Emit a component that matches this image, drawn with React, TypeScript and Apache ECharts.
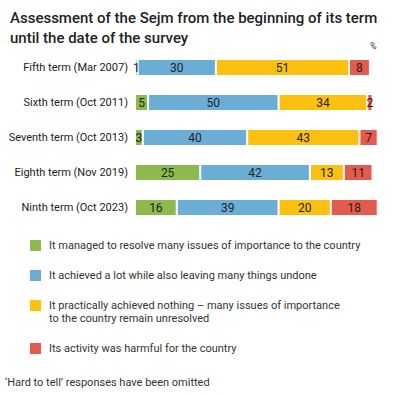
import React, { useEffect, useRef } from "react";
import * as echarts from "echarts";

const titleLines = ["Assessment of the Sejm from the beginning of its term", "until the date of the survey"];
const categories = [
  "Fifth term (Mar 2007)",
  "Sixth term (Oct 2011)",
  "Seventh term (Oct 2013)",
  "Eighth term (Nov 2019)",
  "Ninth term (Oct 2023)",
];
const seriesNames = [
  "It managed to resolve many issues of importance to the country",
  "It achieved a lot while also leaving many things undone",
  "It practically achieved nothing – many issues of importance\nto the country remain unresolved",
  "Its activity was harmful for the country",
];
const resolved = [1, 5, 3, 25, 16];
const achievedLot = [30, 50, 40, 42, 39];
const nothing = [51, 34, 43, 13, 20];
const harmful = [8, 2, 7, 11, 18];
const colors = ["#8cba4c", "#6aaed6", "#fcc010", "#e55a4e"];
const footnote = "‘Hard to tell’ responses have been omitted";

const labelFont = "Roboto, sans-serif";

export default function App() {
  const ref = useRef<HTMLDivElement>(null);
  useEffect(() => {
    const chart = echarts.init(ref.current!, undefined, { renderer: "svg" });
    const values = [resolved, achievedLot, nothing, harmful];
    const legendY = [246, 276, 306, 349];
    const legendGraphics: any[] = [];
    seriesNames.forEach((name, i) => {
      legendGraphics.push({
        type: "rect",
        left: 30,
        top: legendY[i] - 6,
        shape: { width: 11, height: 11 },
        style: { fill: colors[i] },
      });
      legendGraphics.push({
        type: "text",
        left: 49,
        top: legendY[i] - 7,
        style: {
          text: name,
          font: "11px Roboto, sans-serif",
          fill: "#333",
          lineHeight: 13,
        },
      });
    });
    chart.setOption({
      animation: false,
      title: {
        text: titleLines.join("\n"),
        left: 5,
        top: 3,
        textStyle: {
          fontFamily: "Roboto, sans-serif",
          fontSize: 15,
          fontWeight: 500,
          color: "#222",
          lineHeight: 20,
        },
      },
      grid: { left: 135, right: 1, top: 50, bottom: 172, outerBoundsMode: "none", containLabel: false },
      xAxis: {
        type: "value",
        min: 0,
        max: 100,
        show: false,
      },
      yAxis: {
        type: "category",
        data: categories,
        inverse: true,
        axisLine: { show: false },
        axisTick: { show: false },
        splitLine: { show: false },
        axisLabel: {
          margin: 7,
          fontFamily: labelFont,
          fontSize: 11,
          color: "#222",
        },
      },
      series: seriesNames.map((name, i) => ({
        type: "bar",
        name,
        stack: "total",
        barWidth: 17,
        data: values[i],
        itemStyle: { color: colors[i], borderColor: "#fff", borderWidth: 1 },
        label: {
          show: true,
          position: "inside",
          fontFamily: labelFont,
          fontSize: 12,
          color: "#222",
        },
      })),
      graphic: [
        {
          type: "text",
          left: 370,
          top: 41,
          style: { text: "%", font: "9px Roboto, sans-serif", fill: "#333" },
        },
        ...legendGraphics,
        {
          type: "text",
          left: 5,
          top: 377,
          style: { text: footnote, font: "11px Roboto, sans-serif", fill: "#333" },
        },
      ],
    });
    return () => chart.dispose();
  }, []);
  return <div ref={ref} style={{ width: 397, height: 397, position: "absolute", left: 0, top: 0 }} />;
}
